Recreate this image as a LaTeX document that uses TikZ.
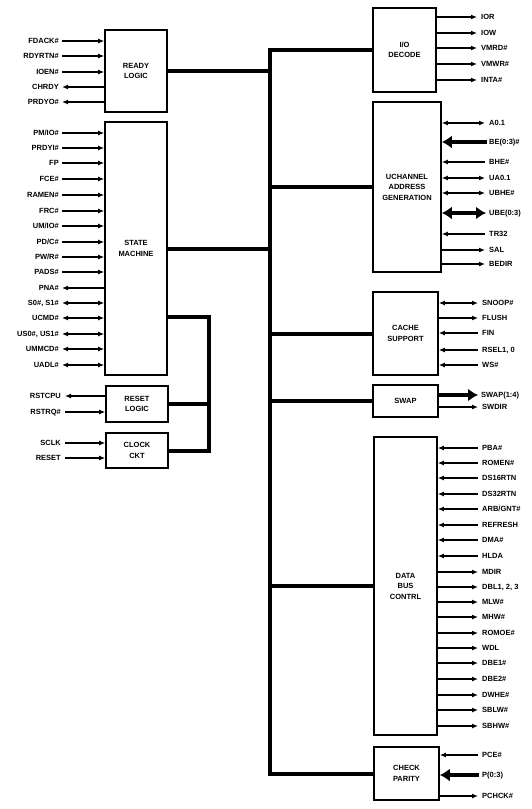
\documentclass[tikz,border=0pt]{standalone}
\usepackage{fontspec}
\setmainfont{Liberation Sans}
\usetikzlibrary{arrows.meta}
\tikzset{
  blk/.style={draw, line width=1.6pt, align=center, inner sep=0pt,
    font=\fontsize{7.5}{10.5}\selectfont\bfseries},
  sig/.style={inner sep=0pt, text height=5.6pt, text depth=0pt,
    font=\fontsize{7.5}{9}\selectfont\bfseries},
  wire/.style={line width=1.3pt},
  bus/.style={line width=4pt},
  fat/.style={line width=4.8pt},
  ain/.style={-{Latex[length=6pt,width=5pt]}},
  aout/.style={{Latex[length=6pt,width=5pt]}-},
  abi/.style={{Latex[length=6pt,width=5pt]}-{Latex[length=6pt,width=5pt]}},
  fin/.style={-{Latex[length=10pt,width=13pt]}},
  fout/.style={{Latex[length=10pt,width=13pt]}-},
  fbi/.style={{Latex[length=10pt,width=13pt]}-{Latex[length=10pt,width=13pt]}},
}
\begin{document}
\begin{tikzpicture}[x=1pt,y=-1pt]
\useasboundingbox[fill=white] (0,0) rectangle (531,809);
% left boxes
\node[blk, minimum width=62pt, minimum height=82pt] (rl) at (136,71) {READY\\LOGIC};
\node[blk, minimum width=62pt, minimum height=253pt] (sm) at (136,248.5) {STATE\\MACHINE};
\node[blk, minimum width=62pt, minimum height=36pt] (rs) at (137,404) {RESET\\LOGIC};
\node[blk, minimum width=62pt, minimum height=35pt] (ck) at (137,450.5) {CLOCK\\CKT};
% right boxes
\node[blk, minimum width=63pt, minimum height=84pt] (io) at (404.5,50) {I/O\\DECODE};
\node[blk, minimum width=68pt, minimum height=170pt] (uc) at (407,187) {UCHANNEL\\ADDRESS\\GENERATION};
\node[blk, minimum width=65pt, minimum height=83pt] (cs) at (405.5,333.5) {CACHE\\SUPPORT};
\node[blk, minimum width=65pt, minimum height=32pt] (sw) at (405.5,401) {SWAP};
\node[blk, minimum width=63pt, minimum height=298pt] (db) at (405.5,586) {DATA\\BUS\\CONTRL};
\node[blk, minimum width=65pt, minimum height=53pt] (cp) at (406.5,773.5) {CHECK\\PARITY};
% main bus
\coordinate (bx) at (270,0);
\draw[bus] (io.west) -- (io.west -| bx) -- (cp.west -| bx) -- (cp.west);
\draw[bus] (rl.east) -- (rl.east -| bx);
\draw[bus] (sm.east) -- (sm.east -| bx);
\draw[bus] (uc.west) -- (uc.west -| bx);
\draw[bus] (cs.west) -- (cs.west -| bx);
\draw[bus] (sw.west) -- (sw.west -| bx);
\draw[bus] (db.west) -- (db.west -| bx);
% secondary bus
\coordinate (sj) at (209,317);
\draw[bus] (sj -| sm.east) -- (sj) -- (ck.east -| sj) -- (ck.east);
\draw[bus] (rs.east) -- (rs.east -| sj);
% left signals
\foreach \y/\t/\a in {41/FDACK\#/ain, 56/RDYRTN\#/ain, 72/IOEN\#/ain, 87/CHRDY/aout, 102/PRDYO\#/aout}{
  \node[sig, anchor=east] (l\y) at (59,\y) {\t};
  \draw[wire,\a] ([xshift=3pt]l\y.east) -- (l\y.east -| rl.west);
}
\foreach \y/\t/\a in {133/{PM/IO\#}/ain, 148/PRDYI\#/ain, 163/FP/ain, 179/FCE\#/ain, 195/RAMEN\#/ain,
  211/FRC\#/ain, 226/{UM/IO\#}/ain, 242/{PD/C\#}/ain, 257/{PW/R\#}/ain, 272/PADS\#/ain, 288/PNA\#/aout,
  303/{S0\#, S1\#}/abi, 318/UCMD\#/abi, 334/{US0\#, US1\#}/abi, 349/UMMCD\#/abi, 365/UADL\#/abi}{
  \node[sig, anchor=east] (l\y) at (59,\y) {\t};
  \draw[wire,\a] ([xshift=3pt]l\y.east) -- (l\y.east -| sm.west);
}
\foreach \y/\t/\a in {396/RSTCPU/aout, 412/RSTRQ\#/ain}{
  \node[sig, anchor=east] (l\y) at (61,\y) {\t};
  \draw[wire,\a] ([xshift=4pt]l\y.east) -- (l\y.east -| rs.west);
}
\foreach \y/\t/\a in {443/SCLK/ain, 458/RESET/ain}{
  \node[sig, anchor=east] (l\y) at (61,\y) {\t};
  \draw[wire,\a] ([xshift=4pt]l\y.east) -- (l\y.east -| ck.west);
}
% right signals
\foreach \y/\t in {17/IOR, 33/IOW, 48/VMRD\#, 64/VMWR\#, 80/INTA\#}{
  \node[sig, anchor=west] (r\y) at (481,\y) {\t};
  \draw[wire,aout] ([xshift=-4pt]r\y.west) -- (r\y.west -| io.east);
}
\foreach \y/\t/\a in {123/A0.1/abi, 162/BHE\#/ain, 178/UA0.1/abi, 193/UBHE\#/abi,
  234/TR32/ain, 250/SAL/aout, 264/BEDIR/aout}{
  \node[sig, anchor=west] (r\y) at (489,\y) {\t};
  \draw[wire,\a] ([xshift=-4pt]r\y.west) -- (r\y.west -| uc.east);
}
\node[sig, anchor=west] (rbe) at (489,142) {BE(0:3)\#};
\draw[fat,fin] ([xshift=-2pt]rbe.west) -- (rbe.west -| uc.east);
\node[sig, anchor=west] (rube) at (489,213) {UBE(0:3)};
\draw[fat,fbi] ([xshift=-3pt]rube.west) -- (rube.west -| uc.east);
\foreach \y/\t/\a in {303/SNOOP\#/abi, 318/FLUSH/aout, 333/FIN/ain, 350/{RSEL1, 0}/ain, 365/WS\#/ain}{
  \node[sig, anchor=west] (r\y) at (482,\y) {\t};
  \draw[wire,\a] ([xshift=-4pt]r\y.west) -- (r\y.west -| cs.east);
}
\node[sig, anchor=west] (rswp) at (481,395) {SWAP(1:4)};
\draw[fat,fout] ([xshift=-3pt]rswp.west) -- (rswp.west -| sw.east);
\node[sig, anchor=west] (r407) at (482,407) {SWDIR};
\draw[wire,aout] ([xshift=-4pt]r407.west) -- (r407.west -| sw.east);
\foreach \y/\t/\a in {448/PBA\#/ain, 463/ROMEN\#/ain, 478/DS16RTN/ain, 494/DS32RTN/ain,
  509/{ARB/GNT\#}/ain, 525/REFRESH/ain, 540/DMA\#/ain, 556/HLDA/ain, 572/MDIR/aout,
  587/{DBL1, 2, 3}/aout, 602/MLW\#/aout, 617/MHW\#/aout, 633/ROMOE\#/aout, 648/WDL/aout,
  663/DBE1\#/aout, 679/DBE2\#/aout, 695/DWHE\#/aout, 710/SBLW\#/aout, 726/SBHW\#/aout}{
  \node[sig, anchor=west] (r\y) at (482,\y) {\t};
  \draw[wire,\a] ([xshift=-4pt]r\y.west) -- (r\y.west -| db.east);
}
\foreach \y/\t/\a in {755/PCE\#/ain, 796/PCHCK\#/aout}{
  \node[sig, anchor=west] (r\y) at (482,\y) {\t};
  \draw[wire,\a] ([xshift=-4pt]r\y.west) -- (r\y.west -| cp.east);
}
\node[sig, anchor=west] (rp) at (482,775) {P(0:3)};
\draw[fat,fin] ([xshift=-3pt]rp.west) -- (rp.west -| cp.east);
\end{tikzpicture}
\end{document}
